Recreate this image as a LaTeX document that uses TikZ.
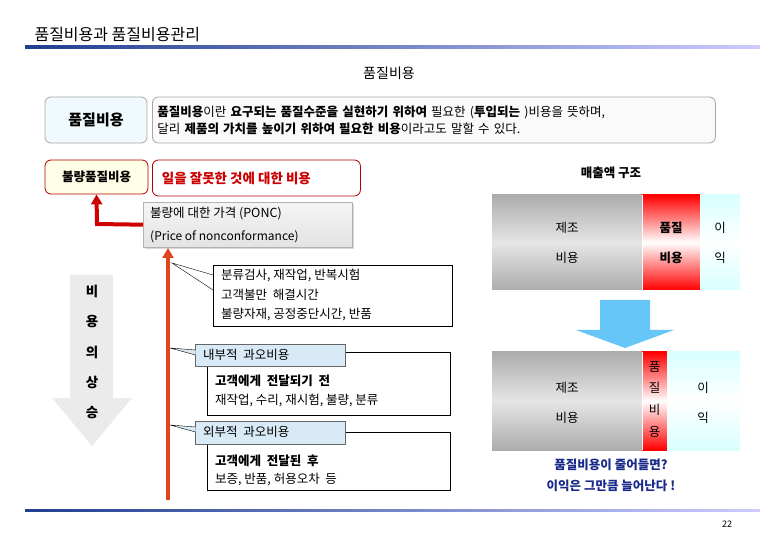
\documentclass[tikz,border=0pt]{standalone}
\usepackage{fontspec}
\setmainfont{Noto Sans CJK KR}
\usetikzlibrary{arrows.meta,shapes.arrows,shadows}
\definecolor{titleblue}{HTML}{1F3F8F}
\definecolor{darkred}{HTML}{D00000}
\definecolor{nblue}{HTML}{1A2A8A}
\definecolor{tagfill}{HTML}{D7EAF5}
\definecolor{skyarrow}{HTML}{66C6F8}
\definecolor{vline}{HTML}{E0451E}
\tikzset{
  lbl/.style={font=\fontsize{12.5}{14}\selectfont, inner sep=0pt},
  rbox/.style={draw=gray!70, rounded corners=6pt, line width=0.8pt},
  plainbox/.style={draw=black, fill=white, line width=0.6pt},
  tagbox/.style={draw=gray!80!black, fill=tagfill, line width=0.6pt},
  ptr/.style={draw=black, line width=0.4pt},
}
\begin{document}
\begin{tikzpicture}[x=1pt,y=-1pt]
\useasboundingbox (0,0) rectangle (780,540);
% title
\node[anchor=west, font=\fontsize{16}{18}\selectfont] (title) at (31,35) {품질비용과 품질비용관리};
\shade[left color=titleblue, right color=blue!20] (25,46) rectangle (760,48.5);
\shade[left color=titleblue, right color=blue!20] (25,509) rectangle (760,511.5);
\node[font=\fontsize{9}{10}\selectfont] (pg) at (727,524) {22};
\node[font=\fontsize{14}{16}\selectfont] (head) at (389,73) {품질비용};
% top boxes
\node[rbox, fill=cyan!6, minimum width=102pt, minimum height=46pt, font=\fontsize{15}{17}\selectfont\bfseries] (qc) at (96,120) {품질비용};
\node[rbox, fill=gray!4, minimum width=563pt, minimum height=46pt, anchor=west, align=left, font=\fontsize{12.5}{17}\selectfont, text width=553pt] (def) at (152,120)
 {\textbf{품질비용}이란 \textbf{요구되는 품질수준을 실현하기 위하여} 필요한 (\textbf{투입되는} )비용을 뜻하며,\\
  달리 \textbf{제품의 가치를 높이기 위하여 필요한 비용}이라고도 말할 수 있다.};
\node[rbox, draw=red!70!black, fill=yellow!10, minimum width=103pt, minimum height=34pt, font=\fontsize{12.5}{14}\selectfont\bfseries] (bad) at (96.5,177) {불량품질비용};
\node[rbox, draw=red!70!black, fill=white, minimum width=208pt, minimum height=36pt, anchor=west, font=\fontsize{13.5}{15}\selectfont\bfseries, text=red!80!black] (wrong) at (152,178) {\hspace{-40pt}일을 잘못한 것에 대한 비용};
% PONC box
\node[draw=gray!60, top color=gray!8, bottom color=gray!22, drop shadow={shadow xshift=2pt,shadow yshift=-2pt,fill=gray!60}, minimum width=209pt, minimum height=45pt, anchor=north west] (ponc) at (143,202) {};
\node[lbl, anchor=west] (p1) at (150,214) {불량에 대한 가격 (PONC)};
\node[lbl, anchor=west, font=\fontsize{12}{14}\selectfont] (p2) at (150,237) {(Price of nonconformance)};
% red arrow to bad
\coordinate (turn) at (97,224);
\draw[darkred, line width=4pt, -{Triangle[width=11pt,length=10pt]}] (ponc.west) -- (turn) -- (bad.south);
% orange vertical
\coordinate (vbot) at (168,500);
\draw[vline, line width=4pt, -{Triangle[width=11pt,length=10pt]}] (vbot) -- (168,248);
% callout 1
\node[plainbox, minimum width=239pt, minimum height=61pt, anchor=north west] (c1) at (213,265) {};
\node[lbl, anchor=west] at (221,275) {분류검사, 재작업, 반복시험};
\node[lbl, anchor=west] at (221,295) {고객불만\ \ 해결시간};
\node[lbl, anchor=west] at (221,315) {불량자재, 공정중단시간, 반품};
\coordinate (tip1) at (172,263);
\draw[ptr] (213,275) -- (tip1) -- (213,290);
% inner
\node[plainbox, minimum width=243pt, minimum height=63pt, anchor=north west] (ib) at (207,352) {};
\node[lbl, anchor=west, font=\fontsize{12.5}{14}\selectfont\bfseries] at (215,381) {고객에게\ \ 전달되기\ \ 전};
\node[lbl, anchor=west] at (215,400) {재작업, 수리, 재시험, 불량, 분류};
\node[tagbox, minimum width=150pt, minimum height=22pt, anchor=north west] (it) at (195,344) {};
\node[lbl, anchor=west] at (203,355) {내부적\ \ 과오비용};
\coordinate (tip2) at (170,348);
\draw[ptr, fill=tagfill] (195.5,350) -- (tip2) -- (195.5,355);
% outer
\node[plainbox, minimum width=243pt, minimum height=58pt, anchor=north west] (ob) at (207,432) {};
\node[lbl, anchor=west, font=\fontsize{12.5}{14}\selectfont\bfseries] at (215,461) {고객에게\ \ 전달된\ \ 후};
\node[lbl, anchor=west] at (215,480) {보증, 반품, 허용오차\ \ 등};
\node[tagbox, minimum width=150pt, minimum height=23pt, anchor=north west] (ot) at (195,421) {};
\node[lbl, anchor=west] at (203,432) {외부적\ \ 과오비용};
\coordinate (tip3) at (170,425);
\draw[ptr, fill=tagfill] (195.5,427) -- (tip3) -- (195.5,432);
% gray big arrow
\fill[gray!16] (70,275) -- (113,275) -- (113,398) -- (132,398) -- (92,446) -- (52,398) -- (70,398) -- cycle;
\foreach \t/\yy in {비/291,용/322,의/352,상/382,승/413}
  \node[font=\fontsize{13.5}{15}\selectfont\bfseries] at (92,\yy) {\t};
% right bars
\node[font=\fontsize{12.5}{14}\selectfont\bfseries] (rev) at (611,173) {매출액 구조};
\shade[top color=gray!65, bottom color=gray!65, middle color=gray!20] (492,195) rectangle (642,290);
\shade[top color=red, bottom color=red, middle color=white] (642,195) rectangle (700,290);
\shade[top color=cyan!15, bottom color=cyan!15, middle color=white] (700,195) rectangle (740,290);
\draw[white, line width=0.8pt] (642,195) -- (642,290);
\node[lbl] at (567,228) {제조};
\node[lbl] at (567,258) {비용};
\node[lbl, font=\fontsize{12.5}{14}\selectfont\bfseries] at (671,228) {품질};
\node[lbl, font=\fontsize{12.5}{14}\selectfont\bfseries] at (671,258) {비용};
\node[lbl] at (720,228) {이};
\node[lbl] at (720,258) {익};
\fill[skyarrow] (600,300) -- (650,300) -- (650,330) -- (674,330) -- (625,348) -- (576,330) -- (600,330) -- cycle;
\shade[top color=gray!65, bottom color=gray!65, middle color=gray!20] (492,352) rectangle (642,450);
\shade[top color=red, bottom color=red, middle color=white] (642,352) rectangle (667,450);
\shade[top color=cyan!15, bottom color=cyan!15, middle color=white] (667,352) rectangle (740,450);
\draw[white, line width=0.8pt] (642,352) -- (642,450);
\node[lbl] at (567,388) {제조};
\node[lbl] at (567,418) {비용};
\foreach \t/\yy in {품/367,질/388,비/410,용/432}
  \node[lbl] at (654.5,\yy) {\t};
\node[lbl] at (703,388) {이};
\node[lbl] at (703,418) {익};
\node[lbl, font=\fontsize{12.5}{14}\selectfont\bfseries, text=nblue] at (611,465) {품질비용이 줄어들면?};
\node[lbl, font=\fontsize{12.5}{14}\selectfont\bfseries, text=nblue] at (611,486) {이익은 그만큼 늘어난다 !};
\end{tikzpicture}
\end{document}
